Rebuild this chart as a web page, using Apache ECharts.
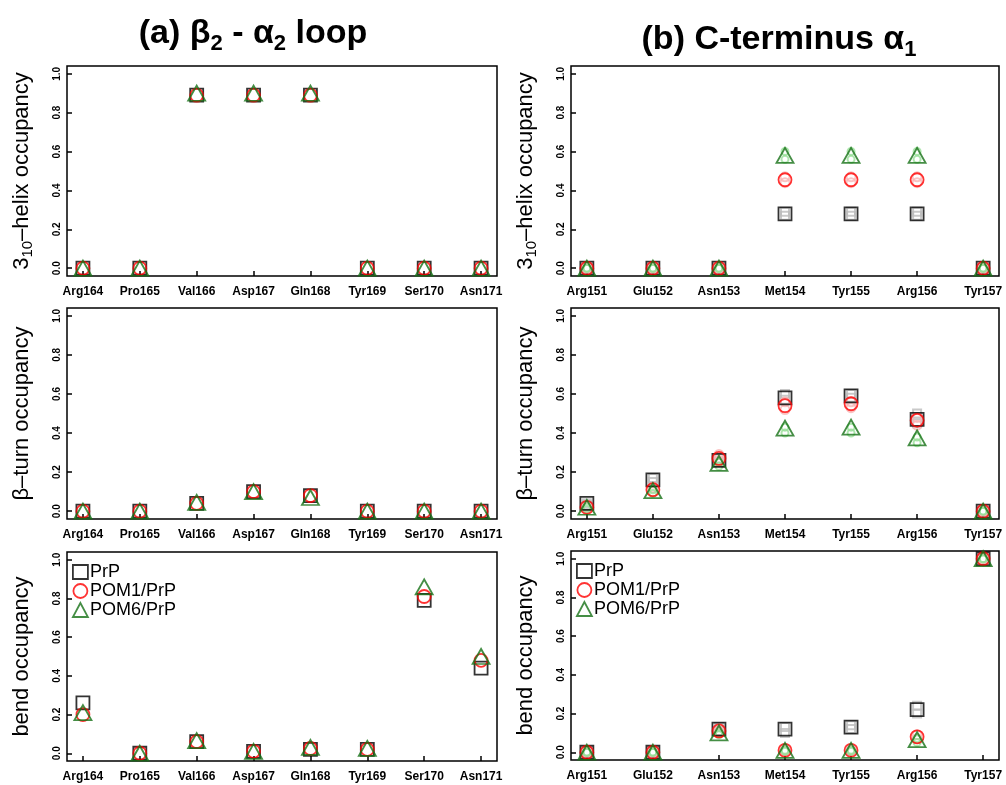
<!DOCTYPE html>
<html>
<head>
<meta charset="utf-8">
<script src="https://cdn.jsdelivr.net/npm/echarts@6/dist/echarts.min.js"></script>
<style>
  html, body { margin: 0; padding: 0; background: #fff; }
  #chart { width: 1006px; height: 785px; }
</style>
</head>
<body>
<div id="chart"></div>
<script>
// residues on the x axes
const loopResidues = ["Arg164", "Pro165", "Val166", "Asp167", "Gln168", "Tyr169", "Ser170", "Asn171"];
const cTermResidues = ["Arg151", "Glu152", "Asn153", "Met154", "Tyr155", "Arg156", "Tyr157"];
const yTicks = [0, 0.2, 0.4, 0.6, 0.8, 1.0];
const seriesNames = ["PrP", "POM1/PrP", "POM6/PrP"];

// (a) beta2 - alpha2 loop
const loopHelixPrp  = [0, 0, 0.89, 0.89, 0.89, 0, 0, 0];
const loopHelixPom1 = [0, 0, 0.89, 0.89, 0.89, 0, 0, 0];
const loopHelixPom6 = [0, 0, 0.90, 0.90, 0.90, 0, 0, 0];

const loopTurnPrp  = [0, 0, 0.04, 0.10, 0.08, 0, 0, 0];
const loopTurnPom1 = [0, 0, 0.04, 0.10, 0.08, 0, 0, 0];
const loopTurnPom6 = [0, 0, 0.045, 0.10, 0.07, 0, 0, 0];

const loopBendPrp  = [0.26, 0, 0.06, 0.01, 0.02, 0.02, 0.79, 0.44];
const loopBendPom1 = [0.20, 0, 0.06, 0.01, 0.025, 0.02, 0.81, 0.48];
const loopBendPom6 = [0.21, 0, 0.065, 0.01, 0.03, 0.025, 0.86, 0.50];

// (b) C-terminus alpha1
const cTermHelixPrp  = [0, 0, 0, 0.28, 0.28, 0.28, 0];
const cTermHelixPom1 = [0, 0, 0, 0.455, 0.455, 0.455, 0];
const cTermHelixPom6 = [0, 0, 0, 0.58, 0.58, 0.58, 0];
// replica spread (low, high) drawn as light markers
const cTermHelixPrpRep  = [[0, 0], [0, 0], [0, 0], [0.27, 0.29], [0.27, 0.29], [0.27, 0.29], [0, 0]];
const cTermHelixPom1Rep = [[0, 0], [0, 0], [0, 0], [0.44, 0.47], [0.44, 0.47], [0.44, 0.47], [0, 0]];
const cTermHelixPom6Rep = [[0, 0], [0, 0], [0, 0], [0.56, 0.60], [0.56, 0.60], [0.56, 0.60], [0, 0]];

const cTermTurnPrp  = [0.04, 0.16, 0.26, 0.58, 0.59, 0.47, 0];
const cTermTurnPom1 = [0.02, 0.11, 0.27, 0.54, 0.55, 0.465, 0];
const cTermTurnPom6 = [0.02, 0.105, 0.245, 0.425, 0.43, 0.375, 0];
const cTermTurnPrpRep  = [[0.03, 0.04], [0.15, 0.17], [0.25, 0.27], [0.57, 0.60], [0.58, 0.60], [0.45, 0.50], [0, 0]];
const cTermTurnPom1Rep = [[0.02, 0.02], [0.10, 0.12], [0.26, 0.29], [0.52, 0.56], [0.53, 0.56], [0.44, 0.48], [0, 0]];
const cTermTurnPom6Rep = [[0.01, 0.02], [0.09, 0.11], [0.23, 0.25], [0.40, 0.43], [0.40, 0.43], [0.35, 0.38], [0, 0]];

const cTermBendPrp  = [0, 0, 0.12, 0.12, 0.13, 0.22, 1.0];
const cTermBendPom1 = [0, 0, 0.11, 0.01, 0.01, 0.08, 1.0];
const cTermBendPom6 = [0, 0, 0.10, 0.01, 0.01, 0.065, 1.0];
const cTermBendPrpRep  = [[0, 0], [0, 0], [0.11, 0.13], [0.10, 0.13], [0.12, 0.14], [0.20, 0.24], [1, 1]];
const cTermBendPom1Rep = [[0, 0], [0, 0], [0.10, 0.11], [0.01, 0.01], [0.01, 0.01], [0.07, 0.09], [1, 1]];
const cTermBendPom6Rep = [[0, 0], [0, 0], [0.09, 0.10], [0.005, 0.01], [0.005, 0.01], [0.05, 0.07], [1, 1]];

const FONT = "Liberation Sans";

const panels = [
  { residues: loopResidues, ylabel: "{n|3}{s|10}{n|\u2013helix occupancy}", vals: [loopHelixPrp, loopHelixPom1, loopHelixPom6] },
  { residues: cTermResidues, ylabel: "{n|3}{s|10}{n|\u2013helix occupancy}", vals: [cTermHelixPrp, cTermHelixPom1, cTermHelixPom6],
    reps: [cTermHelixPrpRep, cTermHelixPom1Rep, cTermHelixPom6Rep] },
  { residues: loopResidues, ylabel: "{n|\u03b2\u2013turn occupancy}", vals: [loopTurnPrp, loopTurnPom1, loopTurnPom6] },
  { residues: cTermResidues, ylabel: "{n|\u03b2\u2013turn occupancy}", vals: [cTermTurnPrp, cTermTurnPom1, cTermTurnPom6],
    reps: [cTermTurnPrpRep, cTermTurnPom1Rep, cTermTurnPom6Rep] },
  { residues: loopResidues, ylabel: "{n|bend occupancy}", vals: [loopBendPrp, loopBendPom1, loopBendPom6] },
  { residues: cTermResidues, ylabel: "{n|bend occupancy}", vals: [cTermBendPrp, cTermBendPom1, cTermBendPom6],
    reps: [cTermBendPrpRep, cTermBendPom1Rep, cTermBendPom6Rep] }
];

const grids = [
  { left: 67, top: 66, width: 430, height: 210 },
  { left: 571, top: 66, width: 428, height: 210 },
  { left: 67, top: 308, width: 430, height: 211 },
  { left: 571, top: 308, width: 428, height: 211 },
  { left: 67, top: 552, width: 430, height: 209 },
  { left: 571, top: 551, width: 428, height: 209 }
];

const mainStyle = [
  { symbol: "rect", symbolSize: 13, color: "#000000" },
  { symbol: "circle", symbolSize: 13, color: "#ff0000" },
  { symbol: "triangle", symbolSize: [17, 15], color: "#167216" }
];
const repStyle = [
  { symbol: "rect", symbolSize: 8, color: "#bcbcbc" },
  { symbol: "circle", symbolSize: 9, color: "#f9b4b4" },
  { symbol: "circle", symbolSize: 7, color: "#98e098" }
];

const xAxes = [], yAxes = [], series = [];
panels.forEach((p, k) => {
  const n = p.residues.length;
  const pad = (n - 1) * 0.04;
  const idx = p.residues.map((_, i) => i + 1);
  xAxes.push({
    type: "value", gridIndex: k, min: 1 - pad, max: n + pad,
    axisLine: { show: false, onZero: false },
    splitLine: { show: false },
    axisTick: { inside: true, length: 5, customValues: idx, lineStyle: { color: "#000", width: 1.5 } },
    axisLabel: {
      customValues: idx, margin: 10, color: "#000", fontFamily: FONT, fontWeight: "bold", fontSize: 12,
      formatter: v => p.residues[Math.round(v) - 1] || ""
    }
  });
  yAxes.push({
    type: "value", gridIndex: k, min: -0.04, max: 1.04,
    axisLine: { show: false, onZero: false },
    splitLine: { show: false },
    axisTick: { inside: true, length: 5, customValues: yTicks, lineStyle: { color: "#000", width: 1.5 } },
    axisLabel: {
      customValues: yTicks, rotate: 90, margin: 5, color: "#000", fontFamily: FONT, fontWeight: "bold", fontSize: 10,
      formatter: v => v.toFixed(1)
    },
    name: p.ylabel, nameLocation: "middle", nameRotate: 90, nameGap: 32,
    nameTextStyle: {
      rich: {
        n: { fontFamily: FONT, fontSize: 22, color: "#000", lineHeight: 26 },
        s: { fontFamily: FONT, fontSize: 15, color: "#000", verticalAlign: "bottom" }
      }
    }
  });
  if (p.reps) {
    p.reps.forEach((r, j) => {
      series.push({
        name: seriesNames[j] + " replicas", type: "scatter", xAxisIndex: k, yAxisIndex: k,
        symbol: repStyle[j].symbol, symbolSize: repStyle[j].symbolSize, silent: true,
        itemStyle: { color: "rgba(0,0,0,0)", borderColor: repStyle[j].color, borderWidth: 2 },
        data: r.flatMap((lh, i) => [[i + 1, lh[0]], [i + 1, lh[1]]]),
        z: 1
      });
    });
  }
  p.vals.forEach((v, j) => {
    series.push({
      name: seriesNames[j], type: "scatter", xAxisIndex: k, yAxisIndex: k,
      symbol: mainStyle[j].symbol, symbolSize: mainStyle[j].symbolSize,
      itemStyle: { color: "rgba(0,0,0,0)", borderColor: mainStyle[j].color, borderWidth: 1.8 },
      data: v.map((y, i) => [i + 1, y]),
      z: 2
    });
  });
});

const legendBase = {
  orient: "vertical", data: seriesNames, selectedMode: false, padding: 0,
  itemWidth: 15, itemHeight: 14, itemGap: 1,
  itemStyle: { borderWidth: 1.8 },
  textStyle: { fontFamily: FONT, fontSize: 18, color: "#000", padding: [0, 0, 0, -3] }
};

const titleRich = {
  b: { fontFamily: FONT, fontSize: 34, fontWeight: "bold", color: "#000", lineHeight: 42 },
  s: { fontFamily: FONT, fontSize: 22, fontWeight: "bold", color: "#000", verticalAlign: "bottom" }
};

const option = {
  animation: false,
  backgroundColor: "#fff",
  title: [
    { text: "{b|(a) \u03b2}{s|2}{b| - \u03b1}{s|2}{b| loop}", left: 253, top: 13, padding: 0, textAlign: "center",
      textStyle: { rich: titleRich } },
    { text: "{b|(b) C-terminus \u03b1}{s|1}", left: 779, top: 19, padding: 0, textAlign: "center",
      textStyle: { rich: titleRich } }
  ],
  legend: [
    Object.assign({ left: 72, top: 563 }, legendBase),
    Object.assign({ left: 576, top: 562 }, legendBase)
  ],
  grid: grids.map(g => Object.assign({ show: true, borderColor: "#000", borderWidth: 1.5, backgroundColor: "transparent" }, g)),
  xAxis: xAxes,
  yAxis: yAxes,
  series: series
};

const myChart = echarts.init(document.getElementById("chart"));
myChart.setOption(option);
</script>
</body>
</html>
